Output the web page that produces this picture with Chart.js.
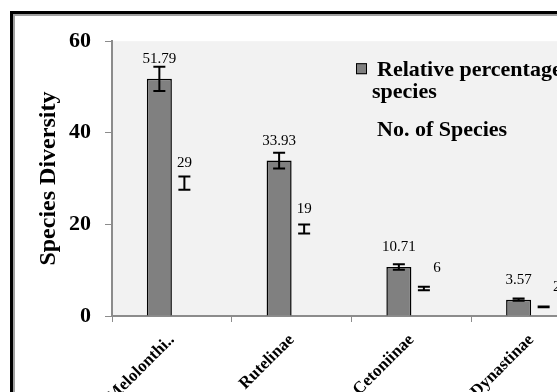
<!DOCTYPE html>
<html>
<head>
<meta charset="utf-8">
<script src="https://cdn.jsdelivr.net/npm/chart.js@4.4.1/dist/chart.umd.min.js"></script>
<style>
  html, body { margin: 0; padding: 0; background: #fff; overflow: hidden; width: 557px; height: 392px; }
  #frame {
    position: absolute; left: 10px; top: 11px;
    width: 640px; height: 440px;
    border: 3px solid #000;
    box-shadow: inset 2px 2px 0 #a0a0a0;
  }
  #chart { position: absolute; left: 0; top: 0; }
</style>
</head>
<body>
<div id="frame"><canvas id="chart" width="640" height="440"></canvas></div>
<script>
// subfamilies and their values
const subfamilies = ['Melolonthi..', 'Rutelinae', 'Cetoniinae', 'Dynastinae'];
const relativePct = [51.79, 33.93, 10.71, 3.57];
const relativePctErr = [2.65, 1.7, 0.6, 0.25];
const speciesCount = [29, 19, 6, 2];
const speciesCountErr = [1.45, 1.0, 0.4, 0.1];
const yTicks = [0, 20, 40, 60];

const serif = '"Liberation Serif", "Times New Roman", serif';

// grey background behind the plot
const plotBg = {
  id: 'plotBg',
  beforeDraw(chart) {
    const { ctx, chartArea: a } = chart;
    ctx.save();
    ctx.fillStyle = '#f2f2f2';
    ctx.fillRect(a.left, a.top, a.right - a.left, a.bottom - a.top);
    ctx.restore();
  }
};

// error bars plus the value written above each bar
const errorBars = {
  id: 'errorBars',
  afterDatasetsDraw(chart) {
    const { ctx } = chart;
    const yScale = chart.scales.y;
    chart.data.datasets.forEach((ds, i) => {
      const meta = chart.getDatasetMeta(i);
      meta.data.forEach((bar, j) => {
        const v = ds.data[j];
        const e = ds.errors[j];
        const top = yScale.getPixelForValue(v + e);
        const bot = yScale.getPixelForValue(v - e);
        ctx.save();
        ctx.strokeStyle = '#000';
        ctx.lineWidth = 2;
        ctx.beginPath();
        ctx.moveTo(bar.x, top); ctx.lineTo(bar.x, bot);
        ctx.moveTo(bar.x - 6, top); ctx.lineTo(bar.x + 6, top);
        ctx.moveTo(bar.x - 6, bot); ctx.lineTo(bar.x + 6, bot);
        ctx.stroke();

        ctx.fillStyle = '#000';
        ctx.font = '15px ' + serif;
        ctx.textAlign = 'center';
        ctx.textBaseline = 'middle';
        const shift = ds.labelShiftX ? ds.labelShiftX[j] : 0;
        ctx.fillText(String(v), bar.x + shift, yScale.getPixelForValue(v) - 20);
        ctx.restore();
      });
    });
  }
};

// legend sitting inside the plot area
const innerLegend = {
  id: 'innerLegend',
  afterDraw(chart) {
    const { ctx, chartArea: a } = chart;
    const x = a.left + 265;
    let y = a.top + 35;
    ctx.save();
    ctx.font = 'bold 22px ' + serif;
    ctx.textAlign = 'left';
    ctx.textBaseline = 'alphabetic';
    ctx.fillStyle = '#000';
    chart.data.datasets.forEach((ds) => {
      if (ds.backgroundColor !== 'transparent') {
        ctx.fillStyle = ds.backgroundColor;
        ctx.fillRect(x - 21, y - 13, 11, 11);
        ctx.strokeStyle = '#000';
        ctx.lineWidth = 1;
        ctx.strokeRect(x - 21 + 0.5, y - 13 + 0.5, 10, 10);
        ctx.fillStyle = '#000';
      }
      // simple word wrap
      const words = ds.label.split(' ');
      const lines = [];
      let line = '';
      words.forEach(w => {
        const test = line ? line + ' ' + w : w;
        if (ctx.measureText(test).width > 235 && line) { lines.push(line); line = w; }
        else line = test;
      });
      lines.push(line);
      lines.forEach((l, k) => {
        ctx.fillText(l, k === 0 ? x : x - 5, y);
        y += 22;
      });
      y += 16;
    });
    ctx.restore();
  }
};

new Chart(document.getElementById('chart'), {
  type: 'bar',
  data: {
    labels: subfamilies,
    datasets: [
      {
        label: 'Relative percentage of species',
        data: relativePct,
        errors: relativePctErr,
        backgroundColor: '#808080',
        borderColor: '#000',
        borderWidth: 1.5,
        categoryPercentage: 0.418,
        barPercentage: 1.0
      },
      {
        label: 'No. of Species',
        data: speciesCount,
        errors: speciesCountErr,
        labelShiftX: [0, 0, 13, 13],
        backgroundColor: 'transparent',
        borderWidth: 0,
        categoryPercentage: 0.418,
        barPercentage: 1.0
      }
    ]
  },
  options: {
    responsive: false,
    animation: false,
    devicePixelRatio: 1,
    layout: { padding: { left: 0, top: 24, right: 62, bottom: 0 } },
    plugins: {
      legend: { display: false },
      tooltip: { enabled: false }
    },
    scales: {
      x: {
        afterFit(scale) { scale.height = 138; },
        grid: {
          offset: true,
          drawOnChartArea: false,
          drawTicks: true,
          tickLength: 6,
          color: '#8c8c8c'
        },
        border: { display: true, color: '#8c8c8c', width: 2 },
        ticks: {
          minRotation: 45,
          maxRotation: 45,
          padding: 8,
          color: '#000',
          font: { family: serif, size: 17, weight: 'bold' }
        }
      },
      y: {
        min: 0,
        max: 60,
        afterFit(scale) { scale.width = 99; },
        afterBuildTicks(scale) { scale.ticks = yTicks.map(v => ({ value: v })); },
        grid: {
          drawOnChartArea: false,
          drawTicks: true,
          tickLength: 7,
          color: '#8c8c8c'
        },
        border: { display: true, color: '#8c8c8c', width: 2 },
        ticks: {
          padding: 14,
          color: '#000',
          font: { family: serif, size: 22, weight: 'bold' }
        },
        title: {
          display: true,
          text: 'Species Diversity',
          color: '#000',
          padding: { top: 21, bottom: 0 },
          font: { family: serif, size: 24, weight: 'bold', lineHeight: 1.2 }
        }
      }
    }
  },
  plugins: [plotBg, errorBars, innerLegend]
});
</script>
</body>
</html>
